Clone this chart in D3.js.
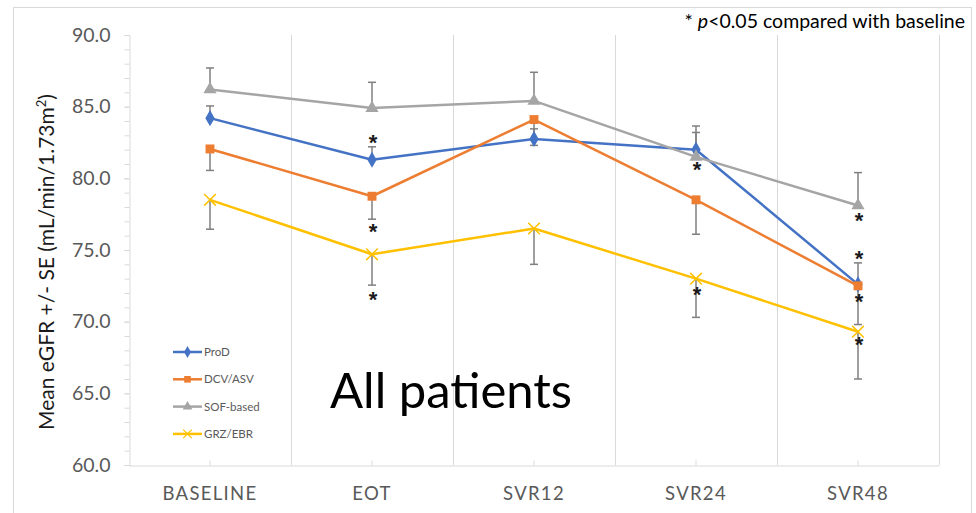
<!DOCTYPE html>
<html>
<head>
<meta charset="utf-8">
<script src="https://cdn.jsdelivr.net/npm/d3@7"></script>
<style>
  body { margin: 0; background: #fff; }
  svg { display: block; }
  text { font-family: Lato, "Open Sans", sans-serif; }
</style>
</head>
<body>
<svg id="chart" width="976" height="513"></svg>
<script>
// Time points
const categories = ["BASELINE", "EOT", "SVR12", "SVR24", "SVR48"];

// Mean eGFR per regimen
const prodValues = [84.2, 81.3, 82.75, 82.0, 72.6];
const dcvValues  = [82.05, 78.75, 84.1, 78.5, 72.5];
const sofValues  = [86.2, 84.9, 85.4, 81.5, 78.1];
const grzValues  = [78.5, 74.7, 76.5, 73.0, 69.3];

// Standard errors (one-sided bars: +1 upward, -1 downward)
const prodSE = [0.85, 0.9, 0.7, 1.2, 1.5];
const dcvSE  = [1.5, 1.6, 1.8, 2.4, 2.7];
const sofSE  = [1.5, 1.8, 2.0, 2.15, 2.3];
const grzSE  = [2.05, 2.15, 2.5, 2.7, 3.3];
const seDirection = [1, -1, 1, -1];

const seriesNames = ["ProD", "DCV/ASV", "SOF-based", "GRZ/EBR"];

// y tick labels
const yTicks = [60, 65, 70, 75, 80, 85, 90];

// Significance markers (time point, eGFR level)
const starCats   = ["EOT", "EOT", "EOT", "SVR24", "SVR24", "SVR48", "SVR48", "SVR48", "SVR48"];
const starLevels = [82.8, 76.6, 71.85, 80.9, 72.2, 77.4, 74.7, 71.75, 68.7];

const colors  = ["#4472C4", "#ED7D31", "#A5A5A5", "#FFC000"];
const symbols = [d3.symbolDiamond, d3.symbolSquare, d3.symbolTriangle, d3.symbolTimes];
const symSize = [75, 80, 75, 90];

const series = seriesNames.map((name, i) => ({
  name,
  values: [prodValues, dcvValues, sofValues, grzValues][i],
  se: [prodSE, dcvSE, sofSE, grzSE][i],
  dir: seDirection[i],
  color: colors[i],
  symbol: symbols[i],
  size: symSize[i]
}));

const svg = d3.select("#chart");
const plot = { left: 129, right: 939, top: 35, bottom: 465 };

const x = d3.scaleBand().domain(categories).range([plot.left, plot.right]).padding(0);
const cx = c => x(c) + x.bandwidth() / 2;
const y = d3.scaleLinear().domain([60, 90]).range([plot.bottom, plot.top]);

// outer chart frame
svg.append("rect")
  .attr("x", 13.5).attr("y", 7.5)
  .attr("width", 958).attr("height", 530)
  .attr("fill", "none").attr("stroke", "#d9d9d9").attr("stroke-width", 1);

// vertical separators between time points
svg.append("g").selectAll("line")
  .data(categories)
  .join("line")
  .attr("x1", c => Math.round(x(c) + x.bandwidth()) + 0.5)
  .attr("x2", c => Math.round(x(c) + x.bandwidth()) + 0.5)
  .attr("y1", plot.top).attr("y2", plot.bottom)
  .attr("stroke", "#d9d9d9").attr("stroke-width", 1);

// y axis with minor ticks every unit
const yMinor = svg.append("g").attr("transform", `translate(${plot.left + 0.5},0)`)
  .call(d3.axisLeft(y).tickValues(d3.range(60, 91, 1)).tickSize(5).tickFormat(""));
yMinor.selectAll("line").attr("stroke", "#d9d9d9");
yMinor.select(".domain").attr("stroke", "#d9d9d9");

const yAxis = svg.append("g").attr("transform", `translate(${plot.left + 0.5},0)`)
  .call(d3.axisLeft(y).tickValues(yTicks).tickSize(5).tickSizeOuter(0).tickPadding(14)
    .tickFormat(d3.format(".1f")));
yAxis.select(".domain").remove();
yAxis.selectAll("line").attr("stroke", "#d9d9d9");
yAxis.selectAll("text").attr("fill", "#595959").style("font-size", "19.5px")
  .style("font-family", "Lato, sans-serif");

// x axis, ticks pointing up at each time point
const xAxis = svg.append("g").attr("transform", `translate(0,${plot.bottom + 0.5})`)
  .call(d3.axisBottom(x).tickSize(-5).tickSizeOuter(0).tickPadding(21));
xAxis.select(".domain").attr("stroke", "#d9d9d9");
xAxis.selectAll("line").attr("stroke", "#d9d9d9");
xAxis.selectAll("text").attr("fill", "#595959").style("font-size", "18.5px")
  .style("font-family", "Lato, sans-serif").style("letter-spacing", "1.3px");

// y axis title
svg.append("text")
  .attr("transform", `translate(54,${(plot.top + plot.bottom) / 2 + 12}) rotate(-90)`)
  .attr("text-anchor", "middle")
  .attr("fill", "#1a1a1a")
  .style("font-size", "21px")
  .call(t => {
    t.append("tspan").text("Mean eGFR +/- SE (mL/min/1.73m");
    t.append("tspan").text("2").attr("baseline-shift", "super").style("font-size", "13px");
    t.append("tspan").text(")");
  });

// error bars
const capHalf = 4;
series.forEach(s => {
  const g = svg.append("g").attr("stroke", "#7f7f7f").attr("stroke-width", 1.5);
  categories.forEach((c, i) => {
    const v = s.values[i];
    const end = v + s.dir * s.se[i];
    g.append("line").attr("x1", cx(c)).attr("x2", cx(c))
      .attr("y1", y(v)).attr("y2", y(end));
    g.append("line").attr("x1", cx(c) - capHalf).attr("x2", cx(c) + capHalf)
      .attr("y1", y(end)).attr("y2", y(end));
  });
});

// series lines and markers
const line = d3.line().x((d, i) => cx(categories[i])).y(d => y(d));
series.forEach(s => {
  svg.append("path")
    .attr("d", line(s.values))
    .attr("fill", "none")
    .attr("stroke", s.color)
    .attr("stroke-width", 2.5)
    .attr("stroke-linejoin", "round");
  const isStroke = s.symbol === d3.symbolTimes;
  svg.append("g").selectAll("path")
    .data(s.values)
    .join("path")
    .attr("transform", (d, i) => `translate(${cx(categories[i])},${y(d)})`)
    .attr("d", d3.symbol(s.symbol, s.size))
    .attr("fill", isStroke ? "none" : s.color)
    .attr("stroke", isStroke ? s.color : "none")
    .attr("stroke-width", isStroke ? 1.5 : 0);
});

// significance asterisks
svg.append("g").selectAll("text")
  .data(starCats.map((c, i) => ({ c, v: starLevels[i] })))
  .join("text")
  .attr("x", d => cx(d.c) + 1)
  .attr("y", d => y(d.v) + 12)
  .attr("text-anchor", "middle")
  .attr("fill", "#1a1a1a")
  .style("font-family", "'Liberation Sans', Arial, sans-serif")
  .style("font-weight", "bold")
  .style("font-size", "22px")
  .text("*");

// legend
const legend = svg.append("g").attr("transform", "translate(173,352)");
series.forEach((s, i) => {
  const g = legend.append("g").attr("transform", `translate(0,${i * 27.3})`);
  g.append("line").attr("x1", 0).attr("x2", 29).attr("y1", 0).attr("y2", 0)
    .attr("stroke", s.color).attr("stroke-width", 2.5);
  const isStroke = s.symbol === d3.symbolTimes;
  g.append("path").attr("transform", "translate(14.5,0)")
    .attr("d", d3.symbol(s.symbol, s.size * 0.55))
    .attr("fill", isStroke ? "none" : s.color)
    .attr("stroke", isStroke ? s.color : "none")
    .attr("stroke-width", isStroke ? 1.2 : 0);
  g.append("text").attr("x", 31).attr("y", 4)
    .attr("fill", "#595959").style("font-size", "11.5px")
    .text(s.name);
});

// panel title
svg.append("text")
  .attr("x", 330).attr("y", 408)
  .attr("fill", "#000")
  .style("font-size", "49px")
  .text("All patients");

// significance note
svg.append("text")
  .attr("x", 965).attr("y", 28)
  .attr("text-anchor", "end")
  .attr("fill", "#000")
  .style("font-size", "19.5px")
  .call(t => {
    t.append("tspan").text("* ");
    t.append("tspan").style("font-style", "italic").text("p");
    t.append("tspan").text("<0.05 compared with baseline");
  });
</script>
</body>
</html>
